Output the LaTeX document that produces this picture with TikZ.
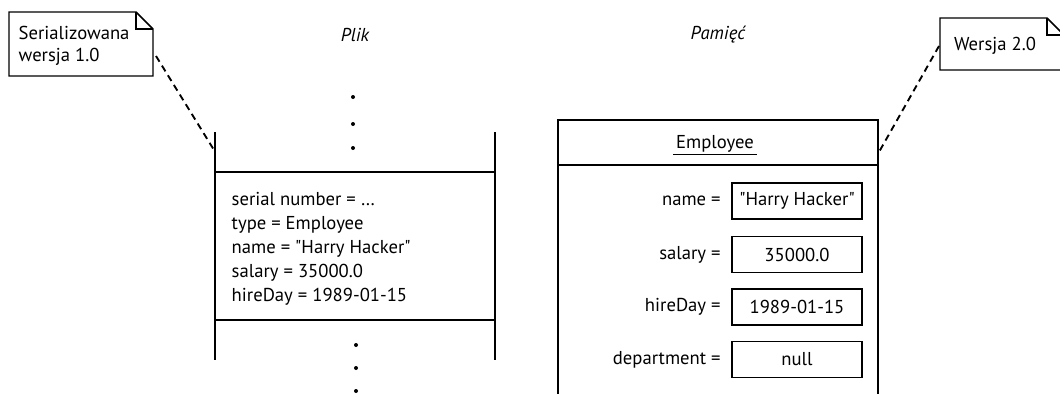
\documentclass[tikz,border=0pt]{standalone}
\usepackage{fontspec}
\setmainfont{PT Sans}[Ligatures=TeXOff]
\usetikzlibrary{calc,positioning}

\tikzset{
  valbox/.style={draw, line width=1pt, minimum width=97.5pt, minimum height=27pt, inner sep=0pt},
  vallabel/.style={inner sep=0pt, anchor=east},
  notelink/.style={line width=1.4pt, dash pattern=on 5pt off 3.5pt},
  dot/.style={circle, fill, inner sep=0pt, minimum size=3pt}
}

\begin{document}
\begin{tikzpicture}[x=0.75pt,y=-0.75pt, line width=1.1pt, font=\fontsize{14}{16}\selectfont]
		\clip (0,0) rectangle (1060,393); % Fixes the page size

		% Notes
		\draw (9,12) -- (136,12) -- (153,29) -- (153,76) -- (9,76) -- cycle;
		\draw (136,12) -- (136,29) -- (153,29);
		\node[anchor=base west, inner sep=0pt] (serNoteA) at (18,39) {Serializowana};
		\node[anchor=base west, inner sep=0pt] (serNoteB) at (18,61) {wersja 1.0};
		\draw (940,18) -- (1047,18) -- (1064,35) -- (1064,70) -- (940,70) -- cycle;
		\draw (1047,18) -- (1047,35) -- (1064,35);
		\node[inner sep=0pt] (verNote) at (995,46) {Wersja 2.0};

		\coordinate (SerNoteEnd) at (156,56);
		\coordinate (FileTop)    at (214,150);
		\coordinate (VerNoteEnd) at (939,46);
		\coordinate (MemTop)     at (879,152);

		% Headings
		\node[font=\fontsize{14}{16}\selectfont\itshape] (plik) at (355,35) {Plik};
		\node[font=\fontsize{14}{16}\selectfont\itshape] (pamiec) at (718,35) {Pamięć};

		% File side
		\draw (215,132) -- (215,360);
		\draw (495,132) -- (495,360);
		\draw (215,172) -- (495,172);
		\draw (215,320) -- (495,320);
		\foreach \y in {97,124,148}{% dots above the record
		  \node[dot] at (353,\y) {};
		}
		\foreach \y in {345,368,391}{% dots below the record
		  \node[dot] at (356,\y) {};
		}
		\foreach \txt [count=\i] in {{serial number = …},{type = Employee},{name = "Harry Hacker"},{salary = 35000.0},{hireDay = 1989-01-15}}{
		  \node[anchor=base west, inner sep=0pt] (fileLine\i) at (231,181+24*\i) {\txt};
		}

		% Memory side
		\draw (558,400) -- (558,120) -- (878,120) -- (878,400);
		\draw (558,165) -- (878,165);
		\node (empTitle) at (715,145) {\underline{\,Employee\,}};

		\node[valbox] (nameVal)   at (797,201)   {"Harry Hacker"};
		\node[valbox] (salaryVal) at (797,254.5) {35000.0};
		\node[valbox] (hireVal)   at (797,307)   {1989-01-15};
		\node[valbox] (deptVal)   at (797,359.5) {null};
		\node[vallabel, left=7.5pt of nameVal]   (nameKey)   {name =};
		\node[vallabel, left=7.5pt of salaryVal] (salaryKey) {salary =};
		\node[vallabel, left=7.5pt of hireVal]   (hireKey)   {hireDay =};
		\node[vallabel, left=7.5pt of deptVal]   (deptKey)   {department =};

		% Note links
		\draw[notelink] (SerNoteEnd) -- (FileTop);
		\draw[notelink] (VerNoteEnd) -- (MemTop);
	  \end{tikzpicture}
\end{document}
